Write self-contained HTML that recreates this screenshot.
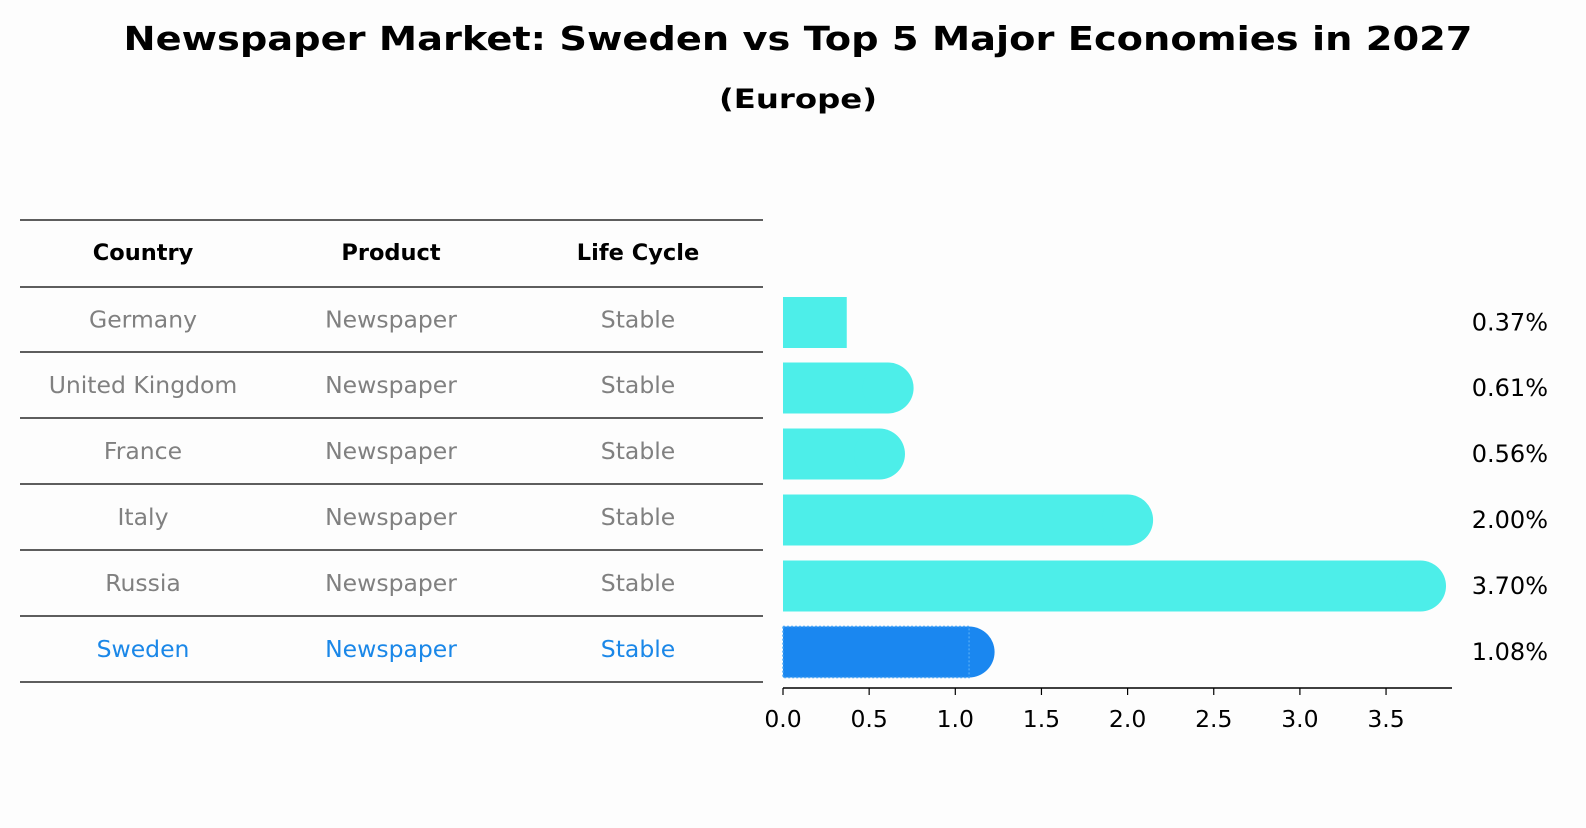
<!DOCTYPE html>
<html><head><meta charset="utf-8"><style>
body{margin:0;background:#fdfdfd;font-family:"Liberation Sans","DejaVu Sans",sans-serif}
svg text{font-family:"DejaVu Sans","Liberation Sans",sans-serif}
</style></head><body>
<svg id="c" width="1586" height="823">
<rect width="1586" height="823" fill="#fdfdfd"/>
<text x="798" y="50" text-anchor="middle" font-size="33" font-weight="bold" textLength="1349" lengthAdjust="spacingAndGlyphs">Newspaper Market: Sweden vs Top 5 Major Economies in 2027</text>
<text x="798" y="108" text-anchor="middle" font-size="27" font-weight="bold" textLength="158" lengthAdjust="spacingAndGlyphs">(Europe)</text>
<g id="tbl"></g>
<g id="bars"></g>
</svg>
<script>
const countries=["Germany","United Kingdom","France","Italy","Russia","Sweden"];
const products=["Newspaper","Newspaper","Newspaper","Newspaper","Newspaper","Newspaper"];
const lifecycle=["Stable","Stable","Stable","Stable","Stable","Stable"];
const values=[0.37,0.61,0.56,2.00,3.70,1.08];
const ticks=[0,0.5,1,1.5,2,2.5,3,3.5];
const NS="http://www.w3.org/2000/svg";
function mk(p,t,a,txt){const e=document.createElementNS(NS,t);for(const k in a)e.setAttribute(k,a[k]);if(txt!==undefined)e.textContent=txt;p.appendChild(e);return e;}
const tbl=document.getElementById('tbl');
const rowY=[220,287,352,418,484,550,616,682];
rowY.forEach((y,i)=>{const l=mk(tbl,'line',{x1:20,x2:763,y1:y,y2:y,stroke:'#000','stroke-width':1.2});

});
const cx=[143,391,638];
["Country","Product","Life Cycle"].forEach((h,j)=>{const t=mk(tbl,'text',{x:cx[j],y:260,'text-anchor':'middle','font-size':22.5,'font-weight':'bold'},h);

});
countries.forEach((c,i)=>{const col=c==="Sweden"?"#1a87e8":"#808080";const y=(rowY[i+1]+rowY[i+2])/2+8;
[c,products[i],lifecycle[i]].forEach((v,j)=>{const t=mk(tbl,'text',{x:cx[j],y:y,'text-anchor':'middle','font-size':23.5,fill:col},v);

});});
const bars=document.getElementById('bars');
const x0=783,ppu=172.3;const X=v=>x0+v*ppu;
const bh=51;
values.forEach((v,i)=>{const yc=(rowY[i+1]+rowY[i+2])/2+3;const col=countries[i]==="Sweden"?"#1a87f0":"#4deee9";
const g=mk(bars,'g',{});


const r=bh/2;
if(v>0.45){mk(g,'rect',{x:x0,y:yc-r,width:X(v)-x0,height:bh,fill:col});mk(g,'circle',{cx:X(v),cy:yc,r:r,fill:col});}
else mk(g,'rect',{x:x0,y:yc-r,width:X(v)-x0,height:bh,fill:col});
if(countries[i]==="Sweden")mk(g,'rect',{x:x0,y:yc-r,width:X(v)-x0,height:bh,fill:'none',stroke:'#4aa6f5','stroke-width':1.5,'stroke-dasharray':'2,2'});
const t=mk(g,'text',{x:1548,y:yc+8,'text-anchor':'end','font-size':24},v.toFixed(2)+'%');

});
const ax=mk(bars,'line',{x1:x0,x2:1452,y1:688,y2:688,stroke:'#000','stroke-width':1.5});


ticks.forEach(t=>{mk(bars,'line',{x1:X(t),x2:X(t),y1:688,y2:695,stroke:'#000','stroke-width':1.2});
const l=mk(bars,'text',{x:X(t),y:727,'text-anchor':'middle','font-size':23.5},t.toFixed(1));

});
</script>
</body></html>
